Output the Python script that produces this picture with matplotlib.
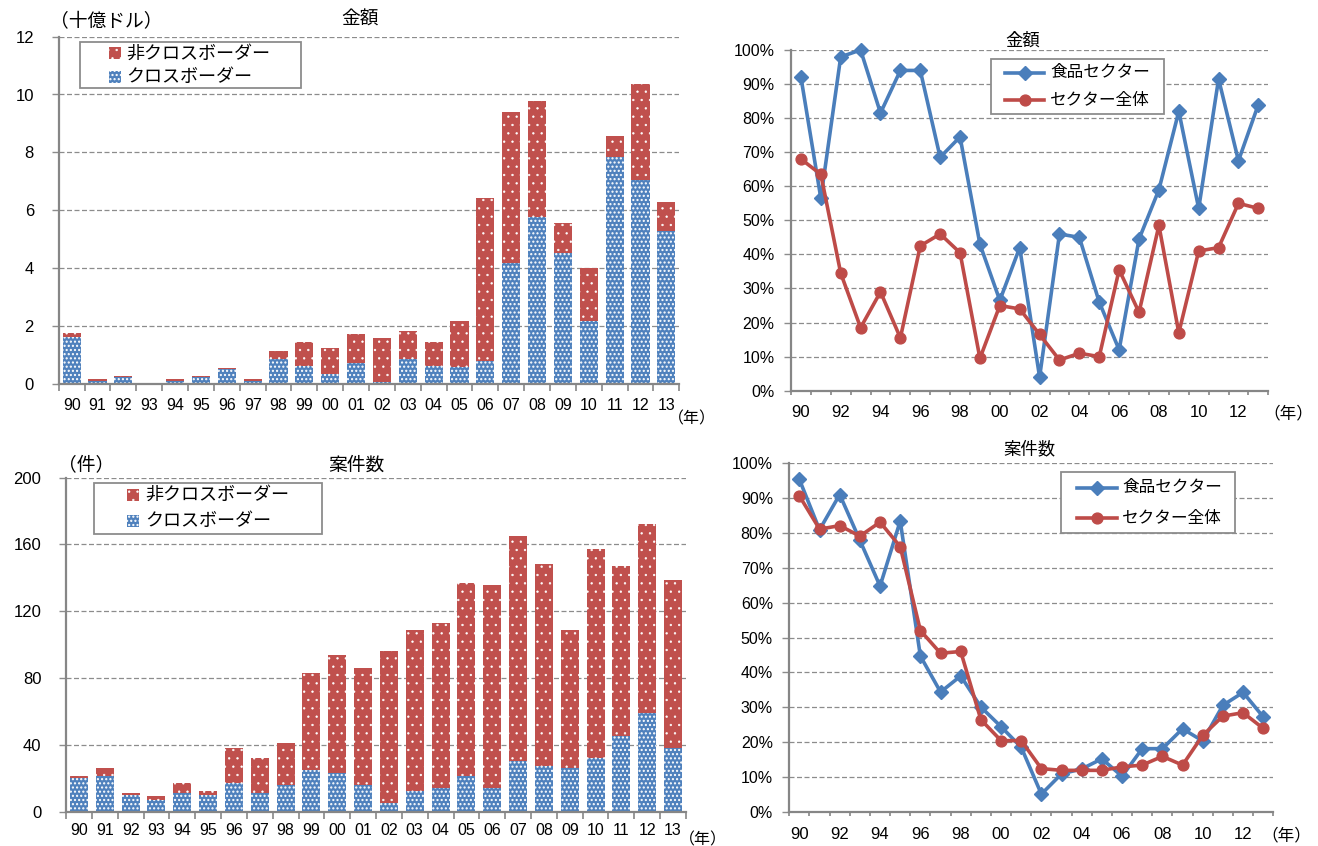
import matplotlib
matplotlib.use("Agg")
import matplotlib.pyplot as plt
from matplotlib.patches import Rectangle
from matplotlib.lines import Line2D
import numpy as np

plt.rcParams["font.family"] = ["Liberation Sans", "Noto Sans CJK JP", "DejaVu Sans"]
plt.rcParams["hatch.linewidth"] = 1.0

JP = ["Noto Sans CJK JP", "DejaVu Sans"]

# ---- data -------------------------------------------------------------
years = ["90", "91", "92", "93", "94", "95", "96", "97", "98", "99", "00", "01",
         "02", "03", "04", "05", "06", "07", "08", "09", "10", "11", "12", "13"]

# deal value, billion USD
amount_cross = [1.61, 0.08, 0.22, 0.00, 0.09, 0.22, 0.49, 0.09, 0.84, 0.60, 0.32, 0.71,
                0.05, 0.85, 0.62, 0.56, 0.78, 4.18, 5.77, 4.53, 2.16, 7.84, 7.03, 5.26]
amount_domestic = [0.14, 0.06, 0.04, 0.00, 0.05, 0.04, 0.06, 0.05, 0.28, 0.82, 0.92, 0.99,
                   1.54, 0.97, 0.80, 1.61, 5.63, 5.20, 4.02, 1.01, 1.85, 0.74, 3.32, 1.03]

# number of deals
count_cross = [20, 21, 10, 7, 11, 10, 17, 11, 16, 25, 23, 16,
               5, 12, 14, 21, 14, 30, 27, 26, 32, 45, 59, 38]
count_domestic = [1, 5, 1, 2, 6, 2, 21, 21, 25, 58, 71, 70,
                  91, 97, 99, 116, 122, 135, 121, 83, 125, 102, 113, 101]

# cross-border share (%), value basis
share_amount_food = [92, 56.5, 98, 100, 81.5, 94, 94, 68.5, 74.5, 43, 26.5, 42,
                     4, 46, 45, 26, 12, 44.5, 59, 82, 53.5, 91.5, 67.5, 84]
share_amount_all = [68, 63.5, 34.5, 18.5, 29, 15.5, 42.5, 46, 40.5, 9.5, 25, 24,
                    16.5, 9, 11, 10, 35.5, 23, 48.5, 17, 41, 42, 55, 53.5]

# cross-border share (%), deal-count basis
share_count_food = [95.2, 80.8, 90.9, 77.8, 64.7, 83.3, 44.7, 34.4, 39.0, 30.1, 24.5, 18.6,
                    5.2, 11.0, 12.4, 15.3, 10.3, 18.2, 18.2, 23.9, 20.4, 30.6, 34.3, 27.3]
share_count_all = [90.5, 81, 82, 79, 83, 76, 52, 45.5, 46, 26.5, 20.5, 20.5,
                   12.5, 12, 12, 12, 13, 13.5, 16, 13.5, 22, 27.5, 28.5, 24]

label_domestic = "非クロスボーダー"
label_cross = "クロスボーダー"
label_food = "食品セクター"
label_all = "セクター全体"

# ---- styling ----------------------------------------------------------
BLUE = "#4F81BD"
RED = "#C0504D"
LBLUE = "#4A7EBB"
LRED = "#BE4B48"
GRID = "#8C8C8C"
AXIS = "#868686"
FRAME = "#8C8C8C"

HATCH_BLUE = ("....", 1.0)
HATCH_RED = ("..", 0.45)

W, H = 1318, 846
fig = plt.figure(figsize=(W / 100, H / 100), dpi=100)


def rect(l, t, r, b):
    return [l / W, 1 - b / H, (r - l) / W, (b - t) / H]


def fx(x):
    return x / W


def fy(y):
    return 1 - y / H


def set_hlw(patches, lw):
    for p in patches:
        if hasattr(p, "set_hatch_linewidth"):
            p.set_hatch_linewidth(lw)


def base_style(ax, ymax, step):
    ax.set_xlim(-0.5, len(years) - 0.5)
    ax.set_ylim(0, ymax)
    ax.set_yticks(np.arange(0, ymax + step / 2, step))
    ax.yaxis.grid(True, color=GRID, linestyle=(0, (4, 2)), linewidth=0.9)
    ax.set_axisbelow(True)
    for s in ("top", "right"):
        ax.spines[s].set_visible(False)
    for s in ("left", "bottom"):
        ax.spines[s].set_color(AXIS)
        ax.spines[s].set_linewidth(1.6)
    ax.set_xticks(np.arange(-0.5, len(years) + 0.5, 1.0), minor=True)
    ax.tick_params(axis="x", which="minor", length=4.8, width=1.2, color=AXIS)
    ax.tick_params(axis="y", which="major", length=4.8, width=1.0, color=GRID)


def bar_panel(ax, cross, domestic, ymax, step, xpad, ypad):
    x = np.arange(len(years))
    with plt.rc_context({"hatch.linewidth": HATCH_BLUE[1]}):
        b1 = ax.bar(x, cross, width=0.7, color=BLUE, edgecolor="white", linewidth=0,
                    hatch=HATCH_BLUE[0], zorder=2)
    set_hlw(b1, HATCH_BLUE[1])
    with plt.rc_context({"hatch.linewidth": HATCH_RED[1]}):
        b2 = ax.bar(x, domestic, bottom=cross, width=0.7, color=RED, edgecolor="white",
                    linewidth=0, hatch=HATCH_RED[0], zorder=2)
    set_hlw(b2, HATCH_RED[1])
    base_style(ax, ymax, step)
    ax.set_xticks(x)
    ax.set_xticklabels(years, fontsize=11.5)
    ax.tick_params(axis="x", which="major", length=0, pad=xpad)
    ax.tick_params(axis="y", labelsize=12, pad=ypad)


def line_panel(ax, food, allsec, xpad):
    x = np.arange(len(years))
    ax.plot(x, np.array(food) / 100, color=LBLUE, lw=2.6, marker="D", ms=7.2,
            mec=LBLUE, mfc=LBLUE, zorder=3, clip_on=False)
    ax.plot(x, np.array(allsec) / 100, color=LRED, lw=2.6, marker="o", ms=7.8,
            mec=LRED, mfc=LRED, zorder=3, clip_on=False)
    base_style(ax, 1.0, 0.1)
    ax.set_yticklabels([f"{int(round(v * 100))}%" for v in np.arange(0, 1.05, 0.1)],
                       fontsize=11.5)
    ax.set_xticks(x[::2])
    ax.set_xticklabels(years[::2], fontsize=12)
    ax.tick_params(axis="x", which="major", length=0, pad=xpad)
    ax.tick_params(axis="x", which="minor", length=3)
    ax.tick_params(axis="y", pad=7)


def bar_legend(x0, y0, x1, y1, sw_x, rows, text_x, fs):
    fig.add_artist(Rectangle((fx(x0), fy(y1)), (x1 - x0) / W, (y1 - y0) / H,
                             transform=fig.transFigure, facecolor="white",
                             edgecolor=FRAME, linewidth=1.3, zorder=5))
    entries = [(label_domestic, RED, HATCH_RED), (label_cross, BLUE, HATCH_BLUE)]
    for (lab, col, (hat, hlw)), ry in zip(entries, rows):
        with plt.rc_context({"hatch.linewidth": hlw}):
            sw = Rectangle((fx(sw_x), fy(ry + 6)), 12 / W, 12 / H,
                           transform=fig.transFigure, facecolor=col,
                           edgecolor="white", linewidth=0, hatch=hat, zorder=6)
        set_hlw([sw], hlw)
        fig.add_artist(sw)
        fig.text(fx(text_x), fy(ry), lab, family=JP, fontsize=fs,
                 ha="left", va="center", zorder=7)


def line_legend(x0, y0, x1, y1, lx0, lx1, rows, text_x, fs):
    fig.add_artist(Rectangle((fx(x0), fy(y1)), (x1 - x0) / W, (y1 - y0) / H,
                             transform=fig.transFigure, facecolor="white",
                             edgecolor=FRAME, linewidth=1.3, zorder=5))
    entries = [(label_food, LBLUE, "D", 7.2), (label_all, LRED, "o", 7.8)]
    for (lab, col, mk, ms), ry in zip(entries, rows):
        fig.add_artist(Line2D([fx(lx0), fx((lx0 + lx1) / 2), fx(lx1)], [fy(ry)] * 3,
                              transform=fig.transFigure, color=col, lw=2.6,
                              marker=mk, ms=ms, markevery=[1], zorder=6))
        fig.text(fx(text_x), fy(ry), lab, family=JP, fontsize=fs,
                 ha="left", va="center", zorder=7)


# ---- value, stacked bars ---------------------------------------------
ax1 = fig.add_axes(rect(58.7, 36.7, 679.3, 383.5))
bar_panel(ax1, amount_cross, amount_domestic, 12, 2, xpad=10.5, ypad=13)
fig.text(fx(360.5), fy(19), "金額", family=JP, fontsize=13.5, ha="center", va="center")
fig.text(fx(50), fy(22), "（十億ドル）", family=JP, fontsize=13.5, ha="left", va="center")
fig.text(fx(692), fy(419), "（年）", family=JP, fontsize=11.5, ha="center", va="center")
bar_legend(79.5, 41.7, 301, 88.3, 109, [53.3, 77.3], 126, 13)

# ---- deal count, stacked bars ----------------------------------------
ax2 = fig.add_axes(rect(66, 477.7, 686, 811.5))
bar_panel(ax2, count_cross, count_domestic, 200, 40, xpad=8.5, ypad=13)
fig.text(fx(356.5), fy(465), "案件数", family=JP, fontsize=13.5, ha="center", va="center")
fig.text(fx(58), fy(465), "（件）", family=JP, fontsize=13.5, ha="left", va="center")
fig.text(fx(703), fy(840), "（年）", family=JP, fontsize=11.5, ha="center", va="center")
bar_legend(93.75, 482.7, 322, 534.3, 127, [495, 521], 145, 13)

# ---- value share, lines ----------------------------------------------
ax3 = fig.add_axes(rect(791, 50, 1268.3, 390.7))
line_panel(ax3, share_amount_food, share_amount_all, xpad=10)
fig.text(fx(1022.8), fy(40.7), "金額", family=JP, fontsize=12.5, ha="center", va="center")
fig.text(fx(1288), fy(414), "（年）", family=JP, fontsize=12, ha="center", va="center")
line_legend(990.5, 59.3, 1163.8, 114, 1005, 1044, [72.7, 100], 1050, 12)

# ---- deal-count share, lines -----------------------------------------
ax4 = fig.add_axes(rect(789.3, 462.7, 1273.3, 812.3))
line_panel(ax4, share_count_food, share_count_all, xpad=10.5)
fig.text(fx(1029.5), fy(449), "案件数", family=JP, fontsize=12.5, ha="center", va="center")
fig.text(fx(1286), fy(836), "（年）", family=JP, fontsize=12, ha="center", va="center")
line_legend(1061, 471.7, 1235, 533, 1077, 1117, [487.7, 518.3], 1122, 12)

fig.savefig("out.png", dpi=100)
